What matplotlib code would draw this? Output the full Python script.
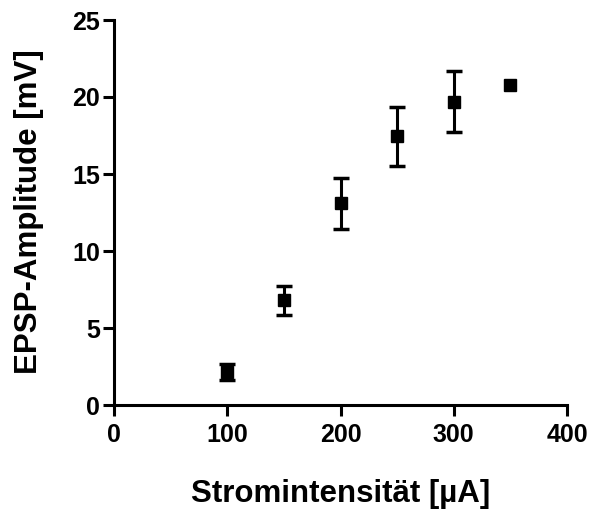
import matplotlib
matplotlib.use('Agg')
import matplotlib.pyplot as plt

# Strom (µA) vs. EPSP-Amplitude (mV), Mittelwert +/- Fehler
strom = [100, 150, 200, 250, 300, 350]
amplitude = [2.15, 6.8, 13.1, 17.45, 19.7, 20.8]
fehler = [0.5, 0.95, 1.65, 1.9, 2.0, float('nan')]  # 350 µA: Balken kleiner als Symbol

x_ticks = [0, 100, 200, 300, 400]
y_ticks = [0, 5, 10, 15, 20, 25]

plt.rcParams['font.family'] = ['Liberation Sans', 'DejaVu Sans']
plt.rcParams['font.weight'] = 'bold'

fig = plt.figure(figsize=(5.9, 5.11), dpi=100)
ax = fig.add_axes([114 / 590, 1 - 405 / 511, 453 / 590, 385 / 511])

ax.errorbar(strom, amplitude, yerr=fehler, fmt='s', color='black',
            markersize=8.5, elinewidth=2.2, capsize=5.5, capthick=2.5,
            clip_on=False, zorder=3)

ax.set_xlim(0, 400)
ax.set_ylim(0, 25)
ax.set_xticks(x_ticks)
ax.set_yticks(y_ticks)

for side in ['top', 'right']:
    ax.spines[side].set_visible(False)
for side in ['left', 'bottom']:
    ax.spines[side].set_linewidth(2.2)

ax.tick_params(axis='both', direction='out', width=2.2, labelsize=18)
ax.tick_params(axis='y', length=8, pad=2)
ax.tick_params(axis='x', length=8, pad=5)
for lbl in ax.get_xticklabels() + ax.get_yticklabels():
    lbl.set_fontweight('bold')

fig.text(341 / 590, 1 - 494 / 511, 'Stromintensität [µA]', ha='center',
         va='center', fontsize=22.5, fontweight='bold')
fig.text(29 / 590, 1 - 212 / 511, 'EPSP-Amplitude [mV]', ha='center',
         va='center', rotation=90, fontsize=22.5, fontweight='bold')

fig.savefig('out.png', dpi=100)
